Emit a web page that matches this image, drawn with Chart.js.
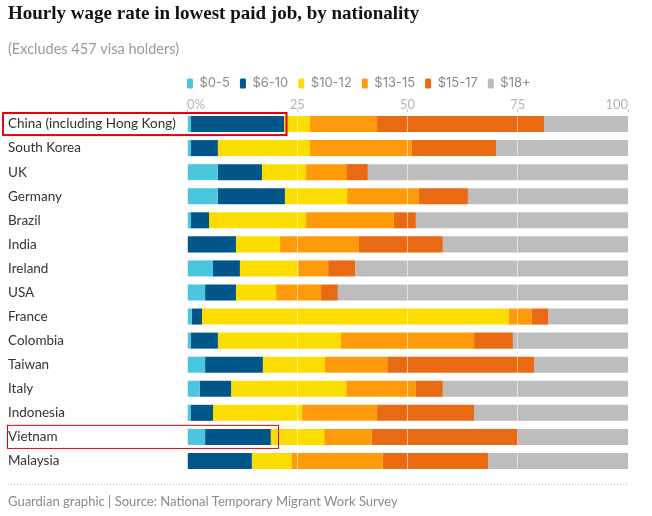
<!DOCTYPE html>
<html>
<head>
<meta charset="utf-8">
<script src="https://cdn.jsdelivr.net/npm/chart.js@4"></script>
<style>
  html, body { margin: 0; padding: 0; background: #fff; }
  #wrap { width: 652px; height: 516px; }
</style>
</head>
<body>
<div id="wrap"><canvas id="c" width="652" height="516"></canvas></div>
<script>
// ---- data ----
const categories = ['China (including Hong Kong)', 'South Korea', 'UK', 'Germany', 'Brazil', 'India', 'Ireland', 'USA', 'France', 'Colombia', 'Taiwan', 'Italy', 'Indonesia', 'Vietnam', 'Malaysia'];
const seriesNames = ['$0-5', '$6-10', '$10-12', '$13-15', '$15-17', '$18+'];
const wage0to5   = [0.9, 0.9, 7.0, 7.0, 0.9, 0,    5.9, 4.1, 1.1, 0.9, 4.1, 2.9, 0.9, 4.1, 0];
const wage6to10  = [21.1, 6.1, 10.0, 15.2, 4.1, 11.1, 6.1, 7.0, 2.3, 6.1, 13.1, 7.1, 5.0, 14.9, 14.7];
const wage10to12 = [5.9, 20.9, 10.0, 14.1, 22.0, 10.0, 13.2, 9.1, 69.6, 27.9, 14.1, 26.1, 20.2, 12.1, 9.1];
const wage13to15 = [15.2, 23.1, 9.1, 16.3, 19.9, 17.9, 6.8, 10.2, 5.2, 30.2, 14.1, 15.8, 17.0, 10.8, 20.6];
const wage15to17 = [37.9, 19.1, 4.9, 11.1, 5.0, 19.0, 6.1, 3.8, 3.7, 8.8, 33.3, 6.1, 22.0, 33.2, 23.9];
const wage18plus = [19.0, 29.9, 59.0, 36.3, 48.1, 42.0, 61.9, 65.8, 18.1, 26.1, 21.3, 42.0, 34.9, 24.9, 31.7];
const xTicks = [0, 25, 50, 75, 100];

// ---- styles ----
const colors = ['#4bc6df', '#005689', '#fbdd00', '#ff9b0b', '#ea6a13', '#bdbdbd'];
const seriesValues = [wage0to5, wage6to10, wage10to12, wage13to15, wage15to17, wage18plus];

// highlight boxes (annotation: category, value where the box ends, style)
const highlights = [
  { category: 'China (including Hong Kong)', upTo: 22.45, left: 3, lineWidth: 2 },
  { category: 'Vietnam', upTo: 20.6, left: 7.5, lineWidth: 1 }
];

const SANS = 'Lato, "Noto Sans", sans-serif';
const LEGEND_FONT = 'Inter, Lato, sans-serif';

const decorPlugin = {
  id: 'decor',
  beforeLayout(chart) {
    // let the top axis labels use the lower part of the legend's padding band
    const lg = chart.legend;
    if (lg && !lg.__wrapped) {
      const fit = lg.fit;
      lg.fit = function () { fit.call(this); this.height -= 10; };
      lg.__wrapped = true;
    }
  },
  afterLayout(chart) {
    // legend starts at the chart-area left edge
    const lg = chart.legend;
    if (lg) { const pad = lg.options.labels.padding; lg.left -= pad; lg.right -= pad; }
  },
  afterDraw(chart) {
    const ctx = chart.ctx;
    const y = chart.scales.y, x = chart.scales.x;
    const band = (y.bottom - y.top) / categories.length;
    ctx.save();
    ctx.strokeStyle = '#e4000f';
    highlights.forEach(h => {
      const i = categories.indexOf(h.category);
      const cy = y.getPixelForValue(i);
      const half = h.lineWidth / 2;
      ctx.lineWidth = h.lineWidth;
      const top = cy - band / 2 + half;
      const bottom = cy + band / 2 - half;
      const right = Math.round(x.getPixelForValue(h.upTo)) + 0.5;
      ctx.strokeRect(h.left, top, right - h.left, bottom - top);
    });
    // footer dotted rule
    ctx.strokeStyle = '#b8b8b8';
    ctx.lineWidth = 1;
    ctx.setLineDash([1, 2]);
    ctx.beginPath();
    ctx.moveTo(8, 484.5);
    ctx.lineTo(x.right, 484.5);
    ctx.stroke();
    ctx.setLineDash([]);
    // footer text
    ctx.fillStyle = '#8a8a8a';
    ctx.font = '13px ' + SANS;
    ctx.textBaseline = 'middle';
    ctx.textAlign = 'left';
    ctx.fillText('Guardian graphic | Source: National Temporary Migrant Work Survey', 8, 502);
    ctx.restore();
  }
};

new Chart(document.getElementById('c'), {
  type: 'bar',
  data: {
    labels: categories,
    datasets: seriesNames.map((name, k) => ({
      label: name,
      data: seriesValues[k],
      backgroundColor: colors[k],
      borderWidth: 0,
      barPercentage: 1,
      categoryPercentage: 16 / 24
    }))
  },
  options: {
    indexAxis: 'y',
    responsive: false,
    animation: false,
    layout: { padding: { left: 8, right: 24, top: 0, bottom: 43 } },
    scales: {
      x: {
        position: 'top',
        stacked: true,
        min: 0,
        max: 100,
        afterBuildTicks(scale) { scale.ticks = xTicks.map(v => ({ value: v })); },
        afterFit(scale) { scale.height = 22; },
        grid: {
          z: 1,
          color: 'rgba(255,255,255,0.55)',
          tickColor: '#c8c8c8',
          tickLength: 3,
          lineWidth: 1
        },
        border: { display: false },
        ticks: {
          align: 'inner',
          padding: -2.5,
          maxRotation: 0,
          autoSkip: false,
          color: '#b5b5b5',
          font: { family: SANS, size: 13, lineHeight: 1 },
          callback: v => v === 0 ? '0%' : String(v)
        }
      },
      y: {
        stacked: true,
        afterFit(scale) { scale.width = 179; },
        grid: { display: false, drawTicks: false },
        border: { display: false },
        ticks: {
          crossAlign: 'far',
          color: '#333333',
          autoSkip: false,
          font: { family: SANS, size: 13.5 }
        }
      }
    },
    plugins: {
      title: {
        display: true,
        text: 'Hourly wage rate in lowest paid job, by nationality',
        align: 'start',
        color: '#121212',
        font: { family: '"Liberation Serif", serif', weight: 'bold', size: 19, lineHeight: 1.2 },
        padding: { top: 3, bottom: 8 }
      },
      subtitle: {
        display: true,
        text: '(Excludes 457 visa holders)',
        align: 'start',
        color: '#999999',
        font: { family: SANS, size: 14.5, lineHeight: 1.2 },
        padding: { top: 6.5, bottom: 9.3 }
      },
      legend: {
        display: true,
        position: 'top',
        align: 'start',
        fullSize: false,
        labels: {
          boxWidth: 6,
          boxHeight: 10,
          useBorderRadius: true,
          borderRadius: 1.5,
          padding: 10,
          color: '#8a8a8a',
          font: { family: LEGEND_FONT, size: 13 }
        }
      },
      tooltip: { enabled: false }
    }
  },
  plugins: [decorPlugin]
});
</script>
</body>
</html>
